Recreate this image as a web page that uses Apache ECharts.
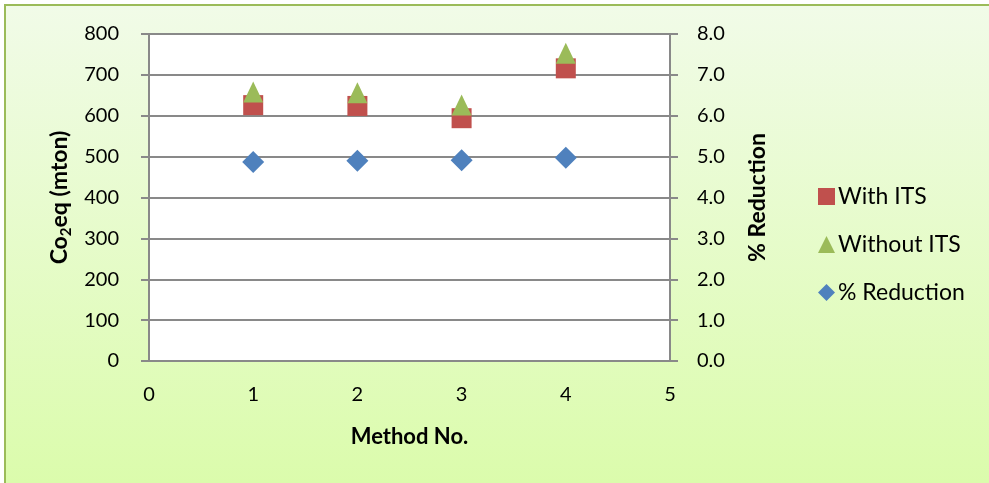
<!DOCTYPE html>
<html>
<head>
<meta charset="utf-8">
<script src="https://cdn.jsdelivr.net/npm/echarts@6/dist/echarts.min.js"></script>
<style>html,body{margin:0;padding:0;background:#fff;}#c{width:989px;height:483px;}</style>
</head>
<body>
<div id="c"></div>
<script>
const methods = [1, 2, 3, 4];
const withITS = [626, 624, 594, 716];
const withoutITS = [658, 656, 626, 753];
const pctReduction = [4.87, 4.90, 4.91, 4.97];
const seriesNames = ['With ITS', 'Without ITS', '% Reduction'];

const FONT = 'Lato, "Liberation Sans", sans-serif';
const grey = '#898989';
const chart = echarts.init(document.getElementById('c'));
chart.setOption({
  animation: false,
  graphic: [{
    type: 'rect', z: -10, silent: true,
    shape: { x: 5, y: 5, width: 1000, height: 500 },
    style: {
      fill: new echarts.graphic.LinearGradient(0, 0, 0, 1, [
        { offset: 0, color: '#f1fbe8' },
        { offset: 1, color: '#dafca9' }
      ]),
      stroke: '#9bbb59', lineWidth: 2
    }
  }],
  grid: { left: 149, right: 319, top: 34, bottom: 122, show: true, backgroundColor: '#ffffff', borderWidth: 0 },
  legend: {
    orient: 'vertical', left: 813, top: 180, itemGap: 25, itemWidth: 17, itemHeight: 17,
    textStyle: { fontFamily: FONT, fontSize: 23, color: '#000', padding: [0, 0, 0, -2] },
    data: [
      { name: seriesNames[0], icon: 'rect' },
      { name: seriesNames[1], icon: 'triangle' },
      { name: seriesNames[2], icon: 'diamond' }
    ]
  },
  xAxis: {
    type: 'value', min: 0, max: 5, interval: 1,
    name: 'Method No.', nameLocation: 'middle', nameGap: 65,
    nameTextStyle: { fontFamily: FONT, fontSize: 22, fontWeight: 'bold', color: '#000' },
    axisLine: { show: true, lineStyle: { color: grey, width: 2 } },
    axisTick: { show: false },
    splitLine: { show: false },
    axisLabel: { margin: 24, fontFamily: FONT, fontSize: 20, color: '#000' }
  },
  yAxis: [{
    type: 'value', min: 0, max: 800, interval: 100,
    name: 'Co{sub|2}eq (mton)', nameLocation: 'middle', nameGap: 72, nameRotate: 90,
    nameTextStyle: { fontFamily: FONT, fontSize: 23, fontWeight: 'bold', color: '#000',
      rich: { sub: { fontFamily: FONT, fontSize: 15, fontWeight: 'bold', color: '#000', verticalAlign: 'bottom', padding: [12, 0, 0, 0] } } },
    axisLine: { show: true, lineStyle: { color: grey, width: 2 } },
    axisTick: { show: true, inside: false, length: 8, lineStyle: { color: grey, width: 2 } },
    splitLine: { show: true, lineStyle: { color: grey, width: 2 } },
    axisLabel: { margin: 30, fontFamily: FONT, fontSize: 20, color: '#000' }
  }, {
    type: 'value', min: 0, max: 8, interval: 1, position: 'right',
    name: '% Reduction', nameLocation: 'middle', nameGap: 76, nameRotate: 90,
    nameTextStyle: { fontFamily: FONT, fontSize: 23, fontWeight: 'bold', color: '#000' },
    axisLine: { show: true, lineStyle: { color: grey, width: 2 } },
    axisTick: { show: true, inside: false, length: 8, lineStyle: { color: grey, width: 2 } },
    splitLine: { show: false },
    axisLabel: { margin: 27, fontFamily: FONT, fontSize: 20, color: '#000', formatter: v => v.toFixed(1) }
  }],
  series: [{
    name: seriesNames[0], type: 'scatter', yAxisIndex: 0, symbol: 'rect', symbolSize: 20,
    itemStyle: { color: '#c0504d', opacity: 1 }, z: 3,
    data: methods.map((m, i) => [m, withITS[i]])
  }, {
    name: seriesNames[1], type: 'scatter', yAxisIndex: 0, symbol: 'triangle', symbolSize: [20, 21],
    itemStyle: { color: '#9bbb59', opacity: 1 }, z: 4,
    data: methods.map((m, i) => [m, withoutITS[i]])
  }, {
    name: seriesNames[2], type: 'scatter', yAxisIndex: 1, symbol: 'diamond', symbolSize: 22,
    itemStyle: { color: '#4f81bd', opacity: 1 }, z: 3,
    data: methods.map((m, i) => [m, pctReduction[i]])
  }]
});
</script>
</body>
</html>
